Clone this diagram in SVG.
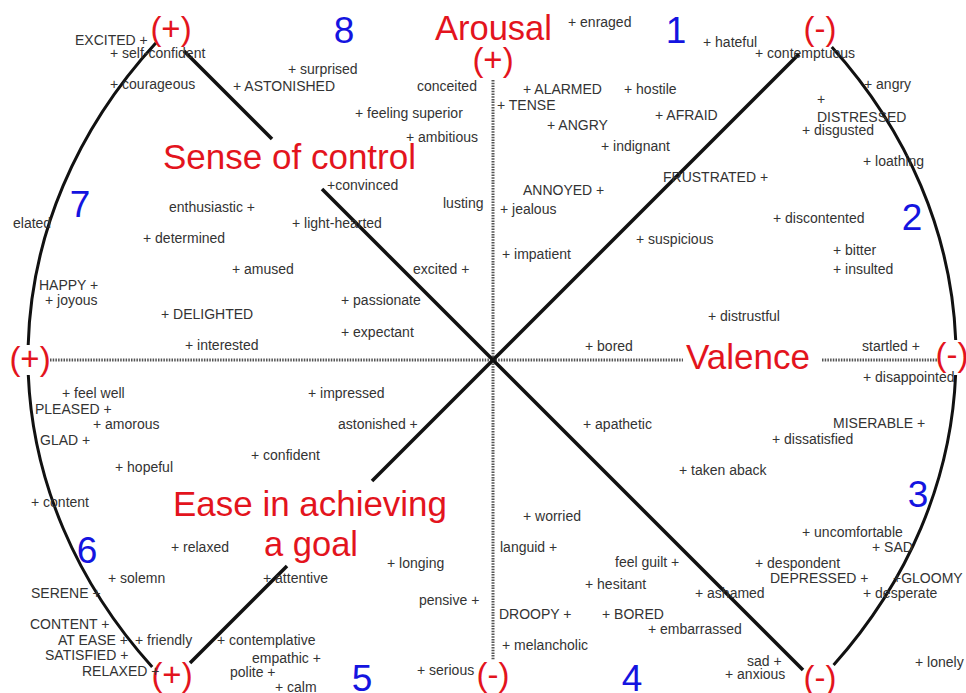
<svg xmlns="http://www.w3.org/2000/svg" width="966" height="693" viewBox="0 0 966 693">
<style>
.w{font-family:"Liberation Sans",Arial,sans-serif;font-size:14px;fill:#333}
.r{font-family:"Liberation Sans",Arial,sans-serif;font-size:34.5px;fill:#e3141d}
.s{font-family:"Liberation Sans",Arial,sans-serif;font-size:33px;fill:#e3141d;text-anchor:middle}
.n{font-family:"Liberation Sans",Arial,sans-serif;font-size:37px;fill:#1414e0;text-anchor:middle}
.ax{stroke:#555;stroke-width:3;stroke-dasharray:1.5 1.2;fill:none}
.ln{stroke:#111;stroke-width:3.5;fill:none}
.arc{stroke:#111;stroke-width:3;fill:none}
</style>
<rect width="966" height="693" fill="#fff"/>
<g id="connectors">
<line class="ax" x1="493" y1="80" x2="493" y2="660"/>
<line class="ax" x1="50" y1="360" x2="683" y2="360"/>
<line class="ax" x1="822" y1="360" x2="938" y2="360"/>
<line class="ln" x1="184" y1="51" x2="272" y2="139"/>
<line class="ln" x1="322" y1="189" x2="803" y2="670"/>
<line class="ln" x1="799" y1="54" x2="372" y2="481"/>
<line class="ln" x1="287" y1="566" x2="190" y2="663"/>
<path class="arc" d="M155.8,43 A630,520 0 0 0 28.2,345"/>
<path class="arc" d="M28.3,375 A630,520 0 0 0 152.2,667"/>
<path class="arc" d="M831.8,47 A630,520 0 0 1 955.7,340"/>
<path class="arc" d="M955.6,375 A630,520 0 0 1 833.6,665"/>
</g>
<g id="axis-labels">
<text class="r" x="435" y="40">Arousal</text>
<text class="r" x="163" y="169" textLength="253" lengthAdjust="spacingAndGlyphs">Sense of control</text>
<text class="r" x="686" y="369" textLength="124" lengthAdjust="spacingAndGlyphs">Valence</text>
<text class="r" x="173" y="516" textLength="274" lengthAdjust="spacingAndGlyphs">Ease in achieving</text>
<text class="r" x="264" y="556">a goal</text>
</g>
<g id="poles">
<text class="s" x="171" y="40">(+)</text>
<text class="s" x="493" y="71">(+)</text>
<text class="s" x="820" y="40">(-)</text>
<text class="s" x="30" y="370">(+)</text>
<text class="s" x="952" y="366">(-)</text>
<text class="s" x="172" y="686">(+)</text>
<text class="s" x="493" y="686">(-)</text>
<text class="s" x="820" y="689">(-)</text>
</g>
<g id="octants">
<text class="n" x="676" y="43">1</text>
<text class="n" x="912" y="230">2</text>
<text class="n" x="918" y="507">3</text>
<text class="n" x="632" y="691">4</text>
<text class="n" x="362" y="691">5</text>
<text class="n" x="87" y="563">6</text>
<text class="n" x="80" y="217">7</text>
<text class="n" x="344" y="43">8</text>
</g>
<g id="emotions">
<text class="w" x="75" y="45">EXCITED +</text>
<text class="w" x="110" y="58">+ self-confident</text>
<text class="w" x="110" y="89">+ courageous</text>
<text class="w" x="288" y="74">+ surprised</text>
<text class="w" x="233" y="91">+ ASTONISHED</text>
<text class="w" x="417" y="91">conceited</text>
<text class="w" x="355" y="118">+ feeling superior</text>
<text class="w" x="406" y="142">+ ambitious</text>
<text class="w" x="523" y="94">+ ALARMED</text>
<text class="w" x="624" y="94">+ hostile</text>
<text class="w" x="497" y="110">+ TENSE</text>
<text class="w" x="547" y="130">+ ANGRY</text>
<text class="w" x="601" y="151">+ indignant</text>
<text class="w" x="568" y="27">+ enraged</text>
<text class="w" x="703" y="47">+ hateful</text>
<text class="w" x="755" y="58">+ contemptuous</text>
<text class="w" x="864" y="89">+ angry</text>
<text class="w" x="817" y="104">+</text>
<text class="w" x="817" y="122">DISTRESSED</text>
<text class="w" x="802" y="135">+ disgusted</text>
<text class="w" x="655" y="120">+ AFRAID</text>
<text class="w" x="863" y="166">+ loathing</text>
<text class="w" x="663" y="182">FRUSTRATED +</text>
<text class="w" x="13" y="228">elated</text>
<text class="w" x="169" y="212">enthusiastic +</text>
<text class="w" x="143" y="243">+ determined</text>
<text class="w" x="232" y="274">+ amused</text>
<text class="w" x="39" y="290">HAPPY +</text>
<text class="w" x="45" y="305">+ joyous</text>
<text class="w" x="161" y="319">+ DELIGHTED</text>
<text class="w" x="185" y="350">+ interested</text>
<text class="w" x="292" y="228">+ light-hearted</text>
<text class="w" x="327" y="190">+convinced</text>
<text class="w" x="443" y="208">lusting</text>
<text class="w" x="500" y="214">+ jealous</text>
<text class="w" x="523" y="195">ANNOYED +</text>
<text class="w" x="502" y="259">+ impatient</text>
<text class="w" x="413" y="274">excited +</text>
<text class="w" x="341" y="305">+ passionate</text>
<text class="w" x="341" y="337">+ expectant</text>
<text class="w" x="585" y="351">+ bored</text>
<text class="w" x="636" y="244">+ suspicious</text>
<text class="w" x="773" y="223">+ discontented</text>
<text class="w" x="833" y="255">+ bitter</text>
<text class="w" x="833" y="274">+ insulted</text>
<text class="w" x="708" y="321">+ distrustful</text>
<text class="w" x="862" y="351">startled +</text>
<text class="w" x="62" y="398">+ feel well</text>
<text class="w" x="35" y="414">PLEASED +</text>
<text class="w" x="93" y="429">+ amorous</text>
<text class="w" x="40" y="445">GLAD +</text>
<text class="w" x="115" y="472">+ hopeful</text>
<text class="w" x="251" y="460">+ confident</text>
<text class="w" x="31" y="507">+ content</text>
<text class="w" x="308" y="398">+ impressed</text>
<text class="w" x="338" y="429">astonished +</text>
<text class="w" x="583" y="429">+ apathetic</text>
<text class="w" x="523" y="521">+ worried</text>
<text class="w" x="863" y="382">+ disappointed</text>
<text class="w" x="833" y="428">MISERABLE +</text>
<text class="w" x="772" y="444">+ dissatisfied</text>
<text class="w" x="679" y="475">+ taken aback</text>
<text class="w" x="171" y="552">+ relaxed</text>
<text class="w" x="108" y="583">+ solemn</text>
<text class="w" x="31" y="598">SERENE +</text>
<text class="w" x="30" y="629">CONTENT +</text>
<text class="w" x="58" y="645">AT EASE +</text>
<text class="w" x="135" y="645">+ friendly</text>
<text class="w" x="45" y="660">SATISFIED +</text>
<text class="w" x="82" y="676">RELAXED +</text>
<text class="w" x="263" y="583">+ attentive</text>
<text class="w" x="217" y="645">+ contemplative</text>
<text class="w" x="252" y="663">empathic +</text>
<text class="w" x="230" y="677">polite +</text>
<text class="w" x="275" y="692">+ calm</text>
<text class="w" x="500" y="552">languid +</text>
<text class="w" x="387" y="568">+ longing</text>
<text class="w" x="419" y="605">pensive +</text>
<text class="w" x="499" y="619">DROOPY +</text>
<text class="w" x="602" y="619">+ BORED</text>
<text class="w" x="502" y="650">+ melancholic</text>
<text class="w" x="417" y="675">+ serious</text>
<text class="w" x="615" y="567">feel guilt +</text>
<text class="w" x="585" y="589">+ hesitant</text>
<text class="w" x="802" y="537">+ uncomfortable</text>
<text class="w" x="872" y="552">+ SAD</text>
<text class="w" x="755" y="568">+ despondent</text>
<text class="w" x="770" y="583">DEPRESSED +</text>
<text class="w" x="893" y="583">+GLOOMY</text>
<text class="w" x="695" y="598">+ ashamed</text>
<text class="w" x="863" y="598">+ desperate</text>
<text class="w" x="648" y="634">+ embarrassed</text>
<text class="w" x="747" y="666">sad +</text>
<text class="w" x="725" y="679">+ anxious</text>
<text class="w" x="915" y="667">+ lonely</text>
</g>
</svg>
